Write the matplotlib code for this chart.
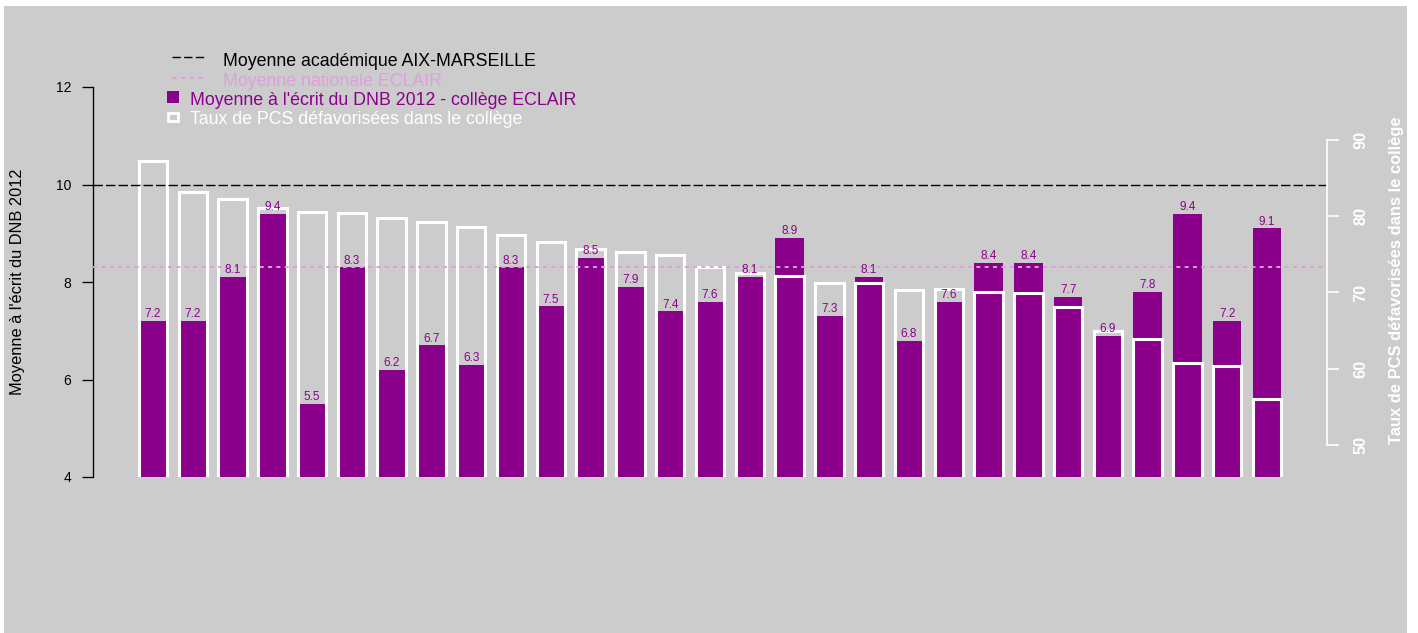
import matplotlib
matplotlib.use('Agg')
import matplotlib.pyplot as plt
from matplotlib.patches import Rectangle
from matplotlib.lines import Line2D
from matplotlib.transforms import blended_transform_factory
import numpy as np

plt.rcParams['font.family'] = ['Liberation Sans', 'DejaVu Sans']
plt.rcParams['lines.scale_dashes'] = False

# ---------------- data ----------------
dnb_scores = [7.2, 7.2, 8.1, 9.4, 5.5, 8.3, 6.2, 6.7, 6.3, 8.3, 7.5, 8.5, 7.9, 7.4,
              7.6, 8.1, 8.9, 7.3, 8.1, 6.8, 7.6, 8.4, 8.4, 7.7, 6.9, 7.8, 9.4, 7.2, 9.1]
pcs_rates = [87.3, 83.2, 82.2, 81.1, 80.5, 80.4, 79.8, 79.2, 78.6, 77.5, 76.6, 75.7,
             75.3, 74.9, 73.4, 72.6, 72.1, 71.3, 71.2, 70.3, 70.4, 70.1, 69.9, 68.1,
             65.0, 63.9, 60.8, 60.3, 56.0]
moyenne_academique = 10.0
moyenne_nationale = 8.3
left_ticks = [4, 6, 8, 10, 12]
right_ticks = [50, 60, 70, 80, 90]

legend_labels = ["Moyenne académique AIX-MARSEILLE",
                 "Moyenne nationale ECLAIR",
                 "Moyenne à l'écrit du DNB 2012 - collège ECLAIR",
                 "Taux de PCS défavorisées dans le collège"]
ylabel_left = "Moyenne à l'écrit du DNB 2012"
ylabel_right = "Taux de PCS défavorisées dans le collège"

# ---------------- style ----------------
W, H, DPI = 1418, 633, 100
PURPLE = '#8B008B'
PLUM = '#DDA0DD'
GRAY = '#CCCCCC'


def fx(px):
    return px / W


def fy(py):
    return 1 - py / H


fig = plt.figure(figsize=(W / DPI, H / DPI), dpi=DPI, facecolor='white')
fig.patches.append(Rectangle((fx(4), 0), fx(1407) - fx(4), fy(6),
                             transform=fig.transFigure, facecolor=GRAY,
                             edgecolor='none', zorder=-10))

ax = fig.add_axes([fx(93), fy(477), (1327 - 93) / W, (477 - 87) / H])
ax.set_facecolor('none')
ax2 = ax.twinx()
ax2.set_facecolor('none')

x = np.arange(len(dnb_scores))
bw = 0.714

# purple bars (left scale)
ax.bar(x, dnb_scores, width=bw, color=PURPLE, edgecolor='none', zorder=1)

# white outline bars (right scale)
ax2.bar(x, np.array(pcs_rates) - 40, bottom=40, width=bw, fill=False,
        edgecolor='white', linewidth=2.2, zorder=1)

# reference lines (in left-scale data coords, drawn above bars)
tr = blended_transform_factory(ax2.transAxes, ax.transData)
ax2.add_line(Line2D([0, 1], [moyenne_academique] * 2, transform=tr,
                    color='black', lw=1.0, dashes=(6.8, 2.2), zorder=2))
ax2.add_line(Line2D([0, 1], [moyenne_nationale] * 2, transform=tr,
                    color=PLUM, lw=1.4, dashes=(2.9, 3.1), zorder=2))

# value labels
for xi, v in zip(x, dnb_scores):
    ax2.annotate(f'{v:.1f}', xy=(xi, v), xycoords=ax.transData,
                 xytext=(0, 2.7), textcoords='offset points',
                 ha='center', va='baseline', fontsize=8.5, color=PURPLE, zorder=3)

# axes limits
ax.set_xlim(-1.506, 29.506)
ax.set_ylim(4, 12)
ax2.set_ylim(45.8, 96.95)

# left axis
ax.set_yticks(left_ticks)
ax.set_yticklabels([str(t) for t in left_ticks])
ax.set_xticks([])
ax.tick_params(axis='y', length=8, width=0.95, pad=7.5, labelsize=10, colors='black')
for s in ['top', 'bottom', 'right']:
    ax.spines[s].set_visible(False)
ax.spines['left'].set_bounds(4, 12)
ax.spines['left'].set_linewidth(0.95)

# right axis
ax2.set_yticks(right_ticks)
ax2.set_yticklabels([str(t) for t in right_ticks])
ax2.set_xticks([])
ax2.tick_params(axis='y', length=8.5, width=1.2, colors='white', labelsize=11.8,
                pad=10.5, labelrotation=90)
for lbl in ax2.get_yticklabels():
    lbl.set_fontweight('bold')
    lbl.set_va('center')
for s in ['top', 'bottom', 'left']:
    ax2.spines[s].set_visible(False)
ax2.spines['right'].set_bounds(50, 90)
ax2.spines['right'].set_color('white')
ax2.spines['right'].set_linewidth(1.2)

# axis titles
fig.text(fx(18), fy(281.5), ylabel_left, rotation=90, ha='center', va='center',
         fontsize=11.8, color='black')
fig.text(fx(1397), fy(280), ylabel_right, rotation=90, ha='center', va='center',
         fontsize=11.9, fontweight='bold', color='white')

# legend (manual)
fig.add_artist(Line2D([fx(172), fx(203.5)], [fy(56.7)] * 2, transform=fig.transFigure,
                      color='black', lw=1.0, dashes=(6.0, 2.4)))
fig.add_artist(Line2D([fx(172), fx(203.5)], [fy(77.7)] * 2, transform=fig.transFigure,
                      color=PLUM, lw=1.4, dashes=(3.1, 3.3)))
fig.add_artist(Rectangle((fx(166.7), fy(102.5)), 12.6 / W, 11 / H,
                         transform=fig.transFigure, facecolor=PURPLE, edgecolor='none'))
fig.add_artist(Rectangle((fx(168.2), fy(121)), 9.8 / W, 8 / H,
                         transform=fig.transFigure, facecolor='none',
                         edgecolor='white', lw=2.0))
legend_colors = ['black', PLUM, PURPLE, 'white']
legend_x = [223, 223, 190, 190]
legend_y = [66.5, 85.5, 105, 124]
for lab, c, lx, ly in zip(legend_labels, legend_colors, legend_x, legend_y):
    fig.text(fx(lx), fy(ly), lab, fontsize=12.8, color=c, ha='left', va='baseline')

fig.savefig('out.png', dpi=DPI, facecolor='white')
